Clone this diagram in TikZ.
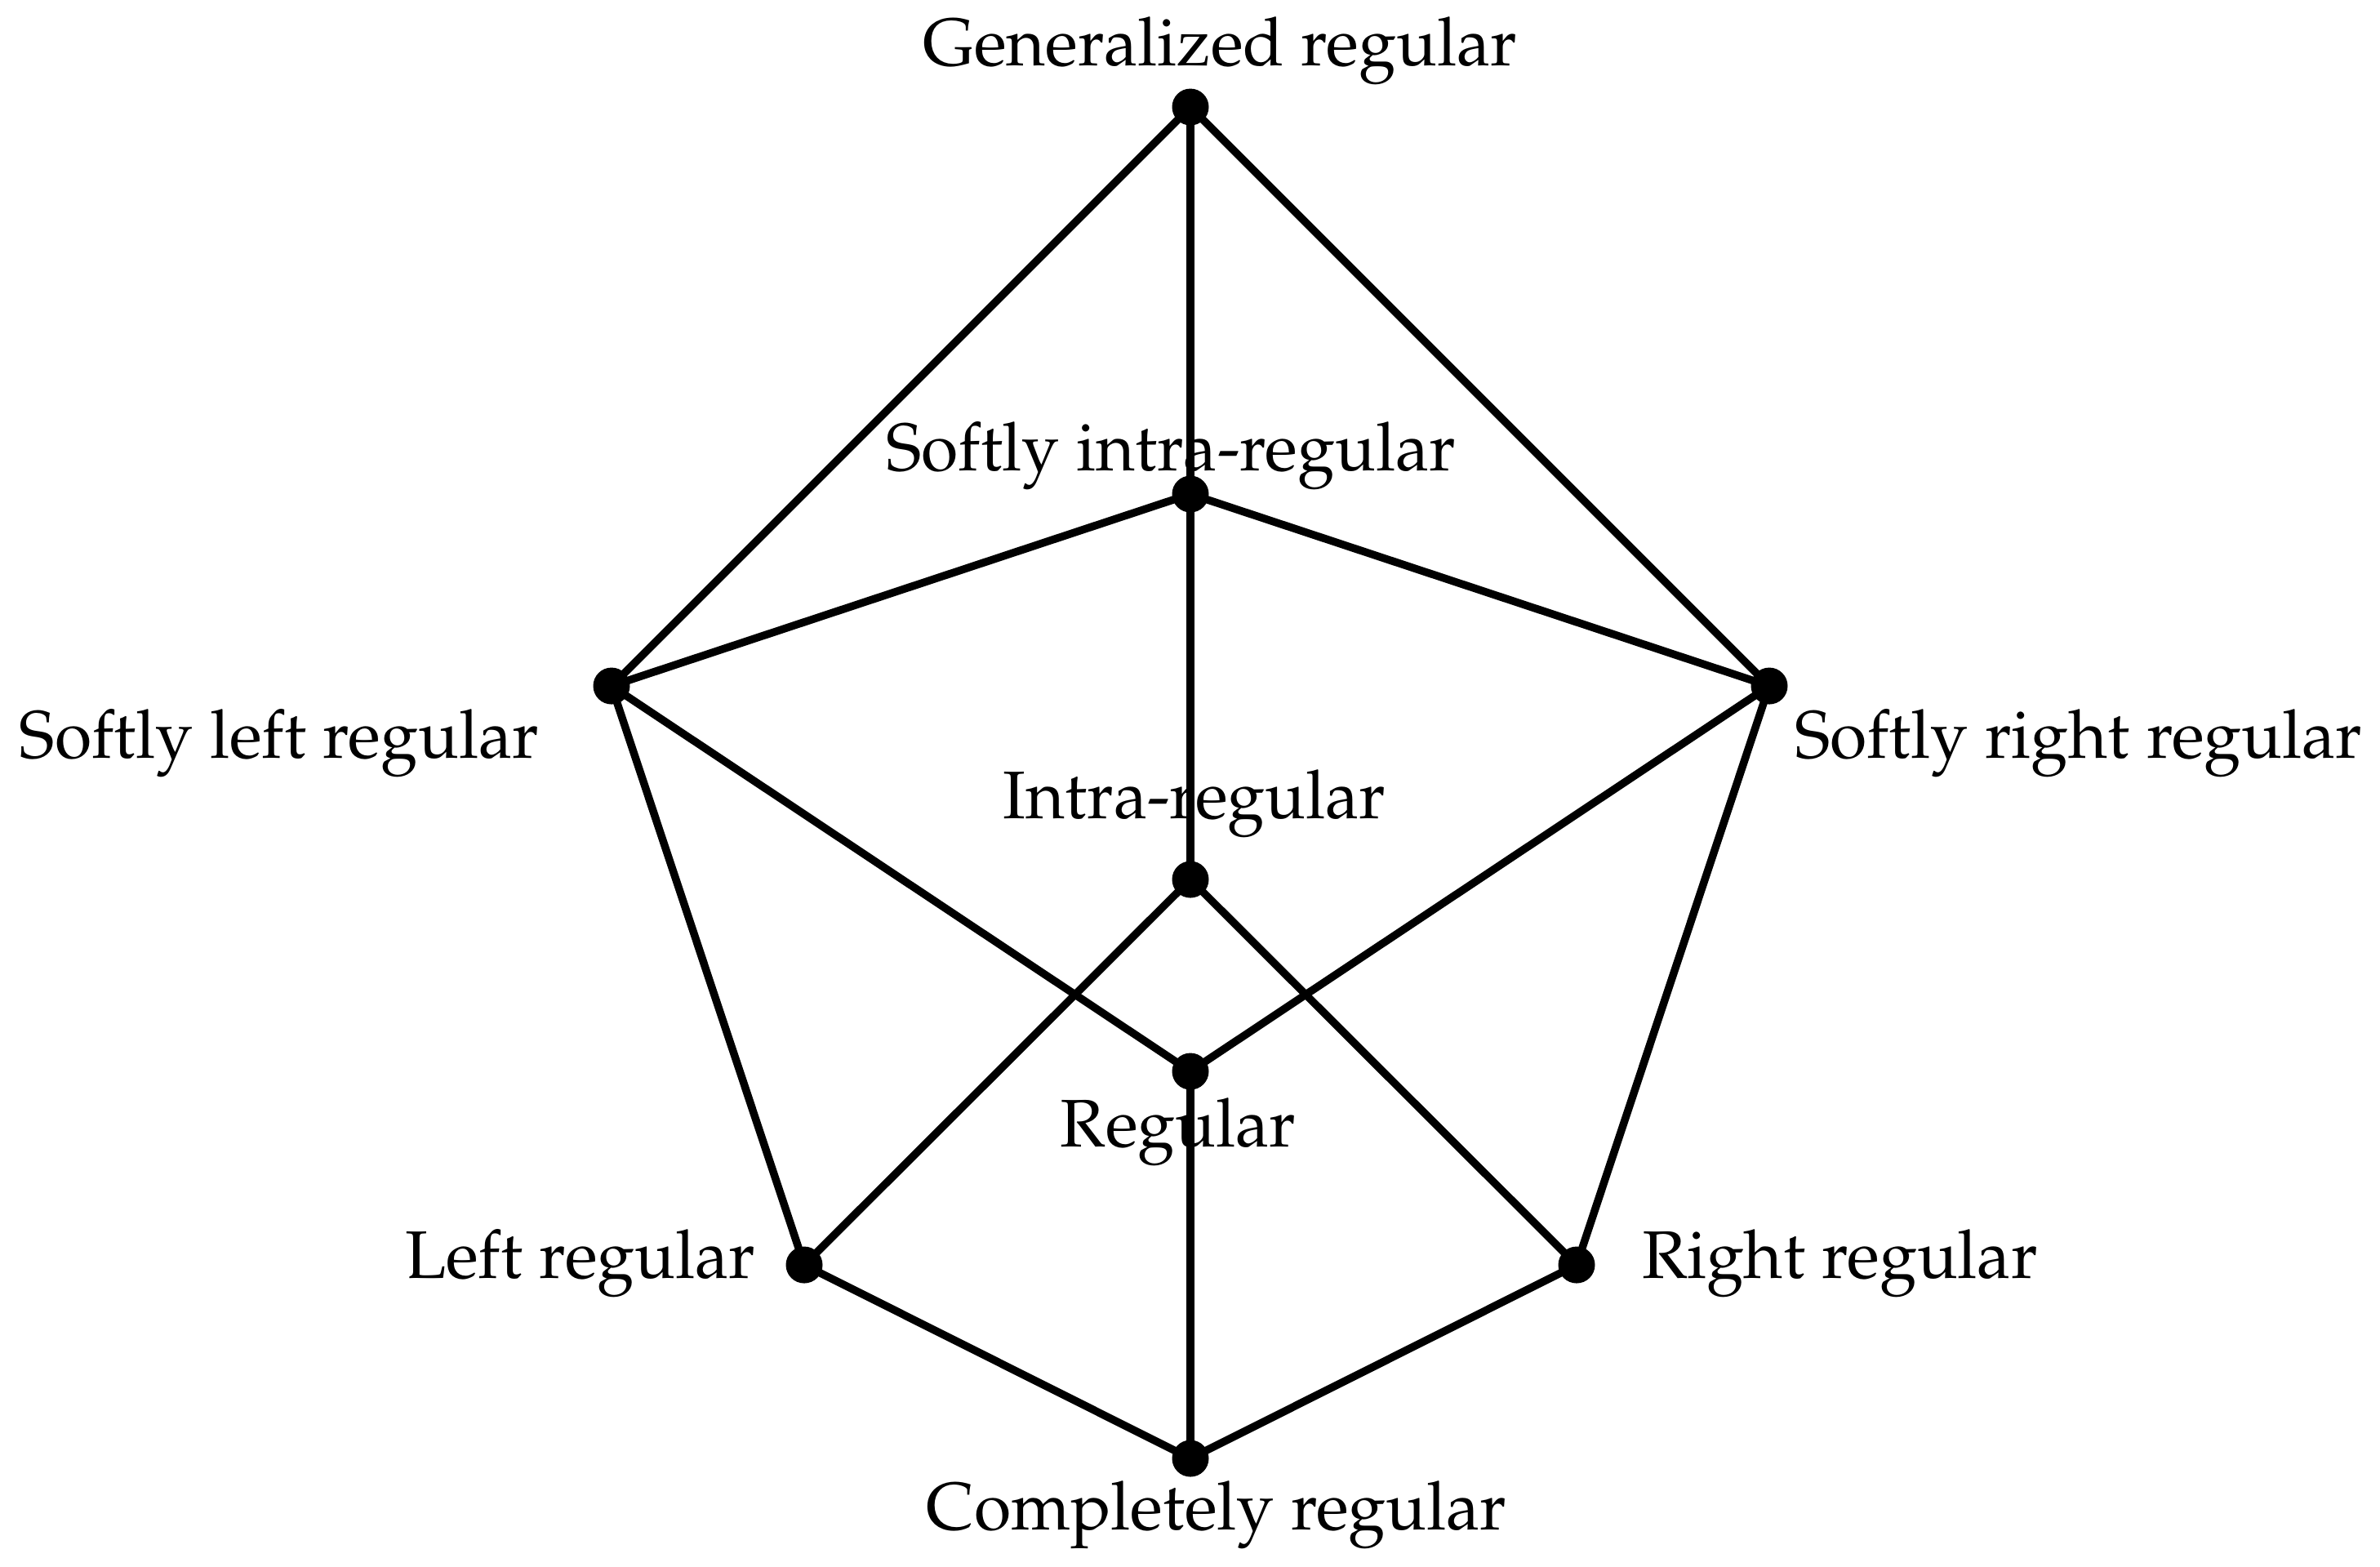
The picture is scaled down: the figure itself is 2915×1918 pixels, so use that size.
\documentclass[tikz,border=0pt]{standalone}
\usepackage[T1]{fontenc}
\usepackage{mathpazo}
\begin{document}
\begin{tikzpicture}[x=0.1pt,y=-0.1pt,
  dot/.style={circle,fill=black,inner sep=0pt,minimum size=4.5pt},
  lbl/.style={inner sep=0pt,font=\fontencoding{T1}\fontfamily{ppl}\fontsize{8.25pt}{10pt}\selectfont},
  edge/.style={line width=0.95pt}]
\useasboundingbox (0,0) rectangle (2915,1918);
\node[dot] (GR) at (1458,131) {};
\node[dot] (SIR) at (1458,605) {};
\node[dot] (IR) at (1458,1077) {};
\node[dot] (R) at (1458,1312) {};
\node[dot] (SLR) at (749,840) {};
\node[dot] (SRR) at (2167,840) {};
\node[dot] (LR) at (985,1549) {};
\node[dot] (RR) at (1931,1549) {};
\node[dot] (CR) at (1458,1786) {};
\draw[edge] (GR.center) -- (SIR.center) -- (IR.center);
\draw[edge] (GR.center) -- (SLR.center);
\draw[edge] (GR.center) -- (SRR.center);
\draw[edge] (SIR.center) -- (SLR.center);
\draw[edge] (SIR.center) -- (SRR.center);
\draw[edge] (SLR.center) -- (LR.center);
\draw[edge] (SLR.center) -- (R.center);
\draw[edge] (SRR.center) -- (RR.center);
\draw[edge] (SRR.center) -- (R.center);
\draw[edge] (IR.center) -- (LR.center);
\draw[edge] (IR.center) -- (RR.center);
\draw[edge] (R.center) -- (CR.center);
\draw[edge] (LR.center) -- (CR.center);
\draw[edge] (RR.center) -- (CR.center);
\node[lbl,anchor=base] (tGR) at (1494,80) {Generalized regular};
\node[lbl,anchor=base] (tSIR) at (1434,576) {Softly intra-regular};
\node[lbl,anchor=base] (tIR) at (1463,1002) {Intra-regular};
\node[lbl,anchor=base] (tR) at (1443,1404) {Regular};
\node[lbl,anchor=base west] (tSLR) at (22,928) {Softly left regular};
\node[lbl,anchor=base west] (tSRR) at (2196,928) {Softly right regular};
\node[lbl,anchor=base east] (tLR) at (927,1565) {Left regular};
\node[lbl,anchor=base west] (tRR) at (2009,1565) {Right regular};
\node[lbl,anchor=base] (tCR) at (1490,1873) {Completely regular};
\end{tikzpicture}
\end{document}
